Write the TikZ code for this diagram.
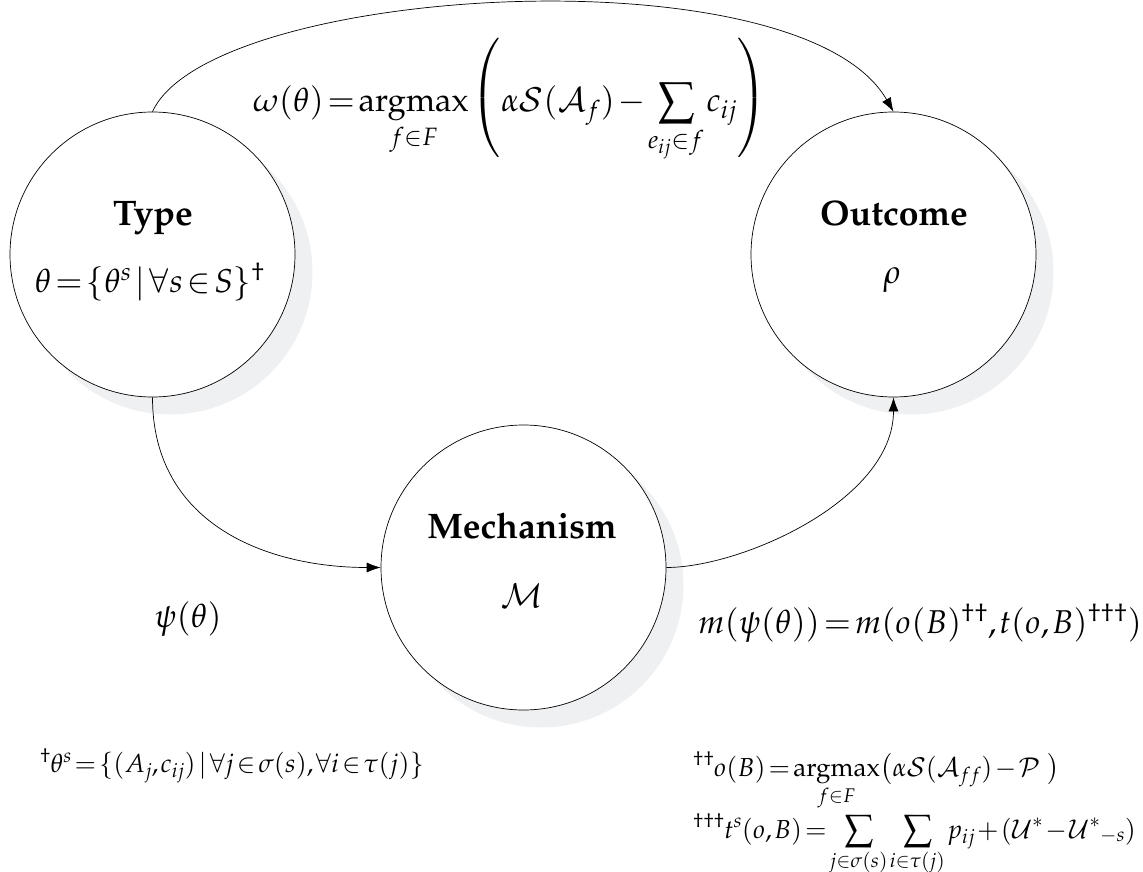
\documentclass[tikz,border=0pt]{standalone}
\usepackage[T1]{fontenc}
\usepackage{mathpazo}
\usetikzlibrary{arrows.meta}
\definecolor{shadowgray}{RGB}{239,240,242}
\newcommand{\tightmath}{\thickmuskip=2mu plus 1mu\relax\medmuskip=1.5mu plus 1mu\relax\thinmuskip=1.5mu\relax}
\newcommand{\noscriptspace}{\scriptspace=0pt\relax}
\newcommand{\tallparen}[1]{\mathord{\raisebox{6pt}{$\displaystyle\nulldelimiterspace=0pt\left#1\vrule width 0pt height 65pt depth 49pt\right.$}}}
\begin{document}
\begin{tikzpicture}[x=1pt,y=-1pt,
  state/.style={circle, draw, fill=white, minimum size=285pt, inner sep=0pt, line width=0.7pt},
  shade/.style={circle, fill=shadowgray, minimum size=285pt, inner sep=0pt},
  conn/.style={line width=0.7pt, -{Latex[length=14pt,width=10pt]}},
  bigtxt/.style={font=\fontsize{33}{40}\selectfont\tightmath, inner sep=0pt, anchor=base},
  titletxt/.style={font=\fontsize{35.5}{42}\selectfont\bfseries, inner sep=0pt, anchor=base},
  smalltxt/.style={font=\fontsize{26}{32}\selectfont\tightmath\noscriptspace, inner sep=0pt, anchor=base west}]
\useasboundingbox (0,0) rectangle (1143,872);
% shadows
\node[shade] (typesh) at (170,272) {};
\node[shade] (outsh) at (911,272) {};
\node[shade] (mechsh) at (541,585) {};
% circles
\node[state] (type) at (152.5,254.5) {};
\node[state] (outcome) at (893.5,254.5) {};
\node[state] (mech) at (523.5,567.5) {};
% labels in circles
\node[titletxt] (typet) at (153,225) {Type};
\node[bigtxt] (typef) at (150,292) {$\theta=\{\theta^s\mid\forall s\in S\}^{\dagger}$};
\node[titletxt] (outt) at (894,225) {Outcome};
\node[bigtxt] (outf) at (892,283) {$\rho$};
\node[titletxt] (mecht) at (522,538) {Mechanism};
\node[bigtxt] (mechf) at (522,607) {$\mathcal{M}$};
% connectors
\draw[conn] (type.north) .. controls +(58,-127) and +(-93,-162) .. (outcome.north);
\draw[conn] (type.south) .. controls +(0,128) and +(-112,0) .. (mech.west);
\draw[conn] (mech.east) .. controls +(75,0) and +(0,103) .. (outcome.south);
% formulas
\node[bigtxt] (omega) at (510,112) {$\displaystyle \omega(\theta)=\mathop{\mathrm{argmax}}\limits_{f\in F}\tallparen(\alpha\mathcal{S}(\mathcal{A}_f)-\sum_{e_{ij}\in f}c_{ij}\tallparen)$};
\node[bigtxt] (psi) at (188,627) {$\psi(\theta)$};
\node[bigtxt] (mform) at (920,633) {$m(\psi(\theta))=m(o(B)^{\dagger\dagger},t(o,B)^{\dagger\dagger\dagger})$};
\node[smalltxt, anchor=base] (foot1) at (232,772) {${}^{\dagger}\theta^s=\{(A_j,c_{ij})\mid\forall j\in\sigma(s),\forall i\in\tau(j)\}$};
\node[smalltxt] (foot2) at (693,776) {$\displaystyle {}^{\dagger\dagger}o(B)=\mathop{\mathrm{argmax}}\limits_{f\in F}\bigl(\alpha\mathcal{S}(\mathcal{A}_{ff})-\mathcal{P}\ \bigr)$};
\node[smalltxt] (foot3) at (693,838) {$\displaystyle {}^{\dagger\dagger\dagger}t^s(o,B)=\sum_{j\in\sigma(s)}\sum_{i\in\tau(j)}p_{ij}+(\mathcal{U}^{*}-\mathcal{U}^{*}{}_{-s})$};
\end{tikzpicture}
\end{document}
